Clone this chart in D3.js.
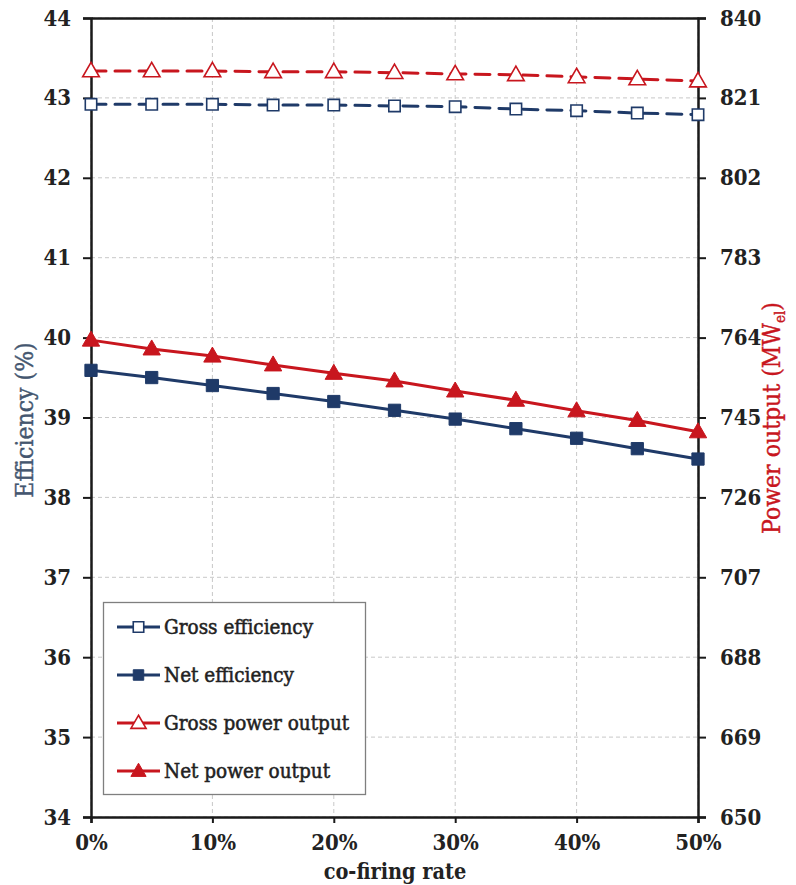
<!DOCTYPE html>
<html><head><meta charset="utf-8">
<script src="https://cdn.jsdelivr.net/npm/d3@7"></script>
<style>
html,body{margin:0;padding:0;background:#fff;}
svg text{font-family:"DejaVu Serif Condensed","DejaVu Serif",serif;}
</style></head>
<body><svg id="c" width="796" height="885"></svg>
<script>
const rates = [0,5,10,15,20,25,30,35,40,45,50];
const grossEff = [42.92,42.92,42.92,42.91,42.91,42.90,42.89,42.86,42.84,42.81,42.79];
const netEff = [39.59,39.50,39.40,39.30,39.20,39.09,38.98,38.86,38.74,38.61,38.48];
const grossPow = [827.4,827.4,827.4,827.2,827.2,827.0,826.7,826.5,826.0,825.5,825.0];
const netPow = [763.4,761.3,759.6,757.5,755.5,753.7,751.3,749.1,746.6,744.3,741.6];
const leftTicks = [34,35,36,37,38,39,40,41,42,43,44];
const rightTicks = [650,669,688,707,726,745,764,783,802,821,840];
const xTicks = [0,10,20,30,40,50];
const navy = "#1f3a68", red = "#c8161e";

const svg = d3.select("#c");
const L=91,R=698,T=18,B=817;
const x = d3.scaleLinear().domain([0,50]).range([L,R]);
const yL = d3.scaleLinear().domain([34,44]).range([B,T]);
const yR = d3.scaleLinear().domain([650,840]).range([B,T]);

// grid
const g = svg.append("g");
g.selectAll(".hg").data(leftTicks).enter().append("line")
 .attr("x1",L).attr("x2",R).attr("y1",d=>yL(d)).attr("y2",d=>yL(d))
 .attr("stroke","#c8c8c8").attr("stroke-width",1).attr("stroke-dasharray","4,3");
g.selectAll(".vg").data(xTicks).enter().append("line")
 .attr("y1",T).attr("y2",B).attr("x1",d=>x(d)).attr("x2",d=>x(d))
 .attr("stroke","#c8c8c8").attr("stroke-width",1).attr("stroke-dasharray","4,3");

// axes
const fmtPct = d=>d+"%";
const ax = svg.append("g").attr("transform",`translate(0,${B})`)
 .call(d3.axisBottom(x).tickValues(xTicks).tickFormat(fmtPct).tickSize(6).tickPadding(11));
const ayl = svg.append("g").attr("transform",`translate(${L},0)`)
 .call(d3.axisLeft(yL).tickValues(leftTicks).tickSize(8).tickPadding(12));
const ayr = svg.append("g").attr("transform",`translate(${R},0)`)
 .call(d3.axisRight(yR).tickValues(rightTicks).tickSize(8).tickPadding(14));
const axt = svg.append("g").attr("transform",`translate(0,${T})`)
 .call(d3.axisTop(x).tickValues([]).tickSize(0));
[ax,ayl,ayr,axt].forEach(a=>{
  a.select(".domain").attr("stroke","#1a1a1a").attr("stroke-width",2.5);
  a.selectAll(".tick line").attr("stroke","#1a1a1a").attr("stroke-width",2);
  a.selectAll(".tick text").attr("fill","#222").attr("font-size",22).attr("font-weight","bold")
   .style("font-family",'"DejaVu Serif Condensed","DejaVu Serif",serif');
});

// lines
function drawSeries(vals, scale, color, dashed, filled, shape){
  const pts = rates.map((r,i)=>[x(r),scale(vals[i])]);
  svg.append("path").attr("d",d3.line()(pts)).attr("fill","none")
   .attr("stroke",color).attr("stroke-width",3)
   .attr("stroke-dasharray",dashed?"15,9":null).attr("stroke-linecap",dashed?"round":"butt");
  const sym = d3.symbol().type(shape==="sq"?d3.symbolSquare:d3.symbolTriangle)
   .size(shape==="sq"?(filled?150:130):(filled?130:120));
  svg.selectAll(null).data(pts).enter().append("path")
   .attr("d",sym).attr("transform",d=>`translate(${d[0]},${d[1]+(shape==="tri"?1:0)})`)
   .attr("fill",filled?color:"#fff").attr("stroke",color).attr("stroke-width",filled?1:1.6);
}
drawSeries(grossPow,yR,red,true,false,"tri");
drawSeries(grossEff,yL,navy,true,false,"sq");
drawSeries(netPow,yR,red,false,true,"tri");
drawSeries(netEff,yL,navy,false,true,"sq");

// axis titles
svg.append("text").attr("x",395).attr("y",879).attr("text-anchor","middle")
 .attr("font-size",21.5).attr("font-weight","bold").attr("fill","#222").text("co-firing rate");
svg.append("text").attr("transform","translate(33,420) rotate(-90)").attr("text-anchor","middle")
 .attr("font-size",24.5).attr("fill","#44566f").attr("stroke","#44566f").attr("stroke-width",0.4).text("Efficiency (%)");
const rt = svg.append("text").attr("transform","translate(780,418) rotate(-90)").attr("text-anchor","middle")
 .attr("font-size",24.5).attr("fill",red).attr("stroke",red).attr("stroke-width",0.4);
rt.append("tspan").text("Power output (MW");
rt.append("tspan").attr("font-size",15).attr("dy",5).text("el");
rt.append("tspan").attr("dy",-5).text(")");

// legend
const lg = svg.append("g");
lg.append("rect").attr("x",103.5).attr("y",602.5).attr("width",262).attr("height",192)
 .attr("fill","#fff").attr("stroke","#7f7f7f").attr("stroke-width",1.3);
const items = [
 {label:"Gross efficiency",color:navy,filled:false,shape:"sq"},
 {label:"Net efficiency",color:navy,filled:true,shape:"sq"},
 {label:"Gross power output",color:red,filled:false,shape:"tri"},
 {label:"Net power output",color:red,filled:true,shape:"tri"}];
items.forEach((it,i)=>{
  const cy = 627 + i*48;
  lg.append("line").attr("x1",117).attr("x2",160).attr("y1",cy).attr("y2",cy)
   .attr("stroke",it.color).attr("stroke-width",3);
  const sym = d3.symbol().type(it.shape==="sq"?d3.symbolSquare:d3.symbolTriangle).size(it.shape==="sq"?110:100);
  lg.append("path").attr("d",sym).attr("transform",`translate(138.5,${cy+(it.shape==="tri"?1:0)})`)
   .attr("fill",it.filled?it.color:"#fff").attr("stroke",it.color).attr("stroke-width",it.filled?1:1.6);
  lg.append("text").attr("x",164).attr("y",cy+7).attr("font-size",20.5).attr("fill","#222")
   .attr("stroke","#222").attr("stroke-width",0.5).text(it.label);
});
</script></body></html>
